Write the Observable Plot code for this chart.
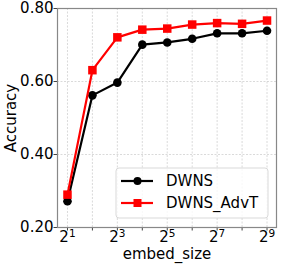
<!DOCTYPE html>
<html>
<head>
<meta charset="utf-8">
<script src="https://cdn.jsdelivr.net/npm/d3@7"></script>
<script src="https://cdn.jsdelivr.net/npm/@observablehq/plot@0.6"></script>
<style>
  html, body { margin: 0; padding: 0; background: #fff; }
  #chart { width: 281px; height: 265px; }
</style>
</head>
<body>
<div id="chart"></div>
<script>
const embedSizes = [2, 4, 8, 16, 32, 64, 128, 256, 512];
const dwns = [0.272, 0.562, 0.597, 0.701, 0.707, 0.717, 0.732, 0.732, 0.739];
const dwnsAdvT = [0.290, 0.631, 0.721, 0.742, 0.745, 0.756, 0.760, 0.758, 0.767];
const seriesNames = ["DWNS", "DWNS_AdvT"];
const seriesColors = ["#000000", "#ff0000"];
const yTicks = [0.2, 0.4, 0.6, 0.8];
const xLabelTicks = [2, 8, 32, 128, 512];

const rows = [];
embedSizes.forEach((e, i) => {
  rows.push({series: seriesNames[0], x: e, y: dwns[i]});
  rows.push({series: seriesNames[1], x: e, y: dwnsAdvT[i]});
});
const s0 = rows.filter(r => r.series === seriesNames[0]);
const s1 = rows.filter(r => r.series === seriesNames[1]);

const plot = Plot.plot({
  width: 281,
  height: 265,
  marginLeft: 57,
  marginRight: 5,
  marginTop: 8,
  marginBottom: 38,
  style: {fontFamily: "'DejaVu Sans', sans-serif", fontSize: "15px", background: "#fff", color: "#000"},
  x: {type: "log", base: 2, domain: [Math.pow(2, 0.6), Math.pow(2, 9.38)]},
  y: {domain: [0.2, 0.8]},
  marks: [
    Plot.gridX(embedSizes, {stroke: "#b0b0b0", strokeOpacity: 0.6, strokeDasharray: "2,1.5", strokeWidth: 0.8}),
    Plot.gridY(yTicks, {stroke: "#b0b0b0", strokeOpacity: 0.6, strokeDasharray: "2,1.5", strokeWidth: 0.8}),
    Plot.axisX(embedSizes, {tickFormat: d => xLabelTicks.includes(d) ? "2^" + Math.round(Math.log2(d)) : "", tickSize: 3.5, tickPadding: 0.5, fontSize: 15, label: null, stroke: "#444"}),
    Plot.axisY(yTicks, {tickFormat: d3.format(".2f"), tickSize: 3.5, tickPadding: 0.5, fontSize: 15, label: null, stroke: "#444"}),
    Plot.frame({stroke: "#888", strokeWidth: 1.2}),
    Plot.line(s0, {x: "x", y: "y", stroke: seriesColors[0], strokeWidth: 2.2}),
    Plot.dot(s0, {x: "x", y: "y", fill: seriesColors[0], r: 4.3, symbol: "circle"}),
    Plot.line(s1, {x: "x", y: "y", stroke: seriesColors[1], strokeWidth: 2.2}),
    Plot.dot(s1, {x: "x", y: "y", fill: seriesColors[1], r: 4.8, symbol: "square"}),
    Plot.text(["embed_size"], {frameAnchor: "bottom", dy: 31, text: d => d, fontSize: 15, lineAnchor: "bottom", textAnchor: "middle"}),
    Plot.text(["Accuracy"], {frameAnchor: "left", dx: -46, rotate: -90, text: d => d, fontSize: 15, textAnchor: "middle", lineAnchor: "middle"})
  ]
});

const svg = d3.select(plot);

// superscript exponents on x tick labels
svg.selectAll("text").each(function() {
  const m = (this.textContent || "").match(/^2\^(\d+)$/);
  if (m) {
    const t = d3.select(this);
    t.text("2");
    t.append("tspan").attr("dy", -5.3).attr("font-size", 10.5).text(m[1]);
  }
});

// legend
const lg = svg.append("g")
  .attr("font-family", "'DejaVu Sans', sans-serif")
  .attr("font-size", 15)
  .attr("text-anchor", "start");
lg.append("rect").attr("x", 116).attr("y", 168).attr("width", 152).attr("height", 50)
  .attr("rx", 3).attr("fill", "#fff").attr("fill-opacity", 0.8).attr("stroke", "#d9d9d9");
seriesNames.forEach((name, i) => {
  const yy = 181 + i * 22;
  lg.append("line").attr("x1", 121).attr("x2", 153).attr("y1", yy).attr("y2", yy)
    .attr("stroke", seriesColors[i]).attr("stroke-width", 2.2);
  if (i === 0) {
    lg.append("circle").attr("cx", 137.5).attr("cy", yy).attr("r", 4).attr("fill", seriesColors[i]);
  } else {
    lg.append("rect").attr("x", 137.5 - 4).attr("y", yy - 4).attr("width", 8).attr("height", 8).attr("fill", seriesColors[i]);
  }
  lg.append("text").attr("x", 166).attr("y", yy).attr("dy", "0.35em")
    .attr("text-anchor", "start").text(name);
});

document.getElementById("chart").appendChild(plot);
</script>
</body>
</html>
